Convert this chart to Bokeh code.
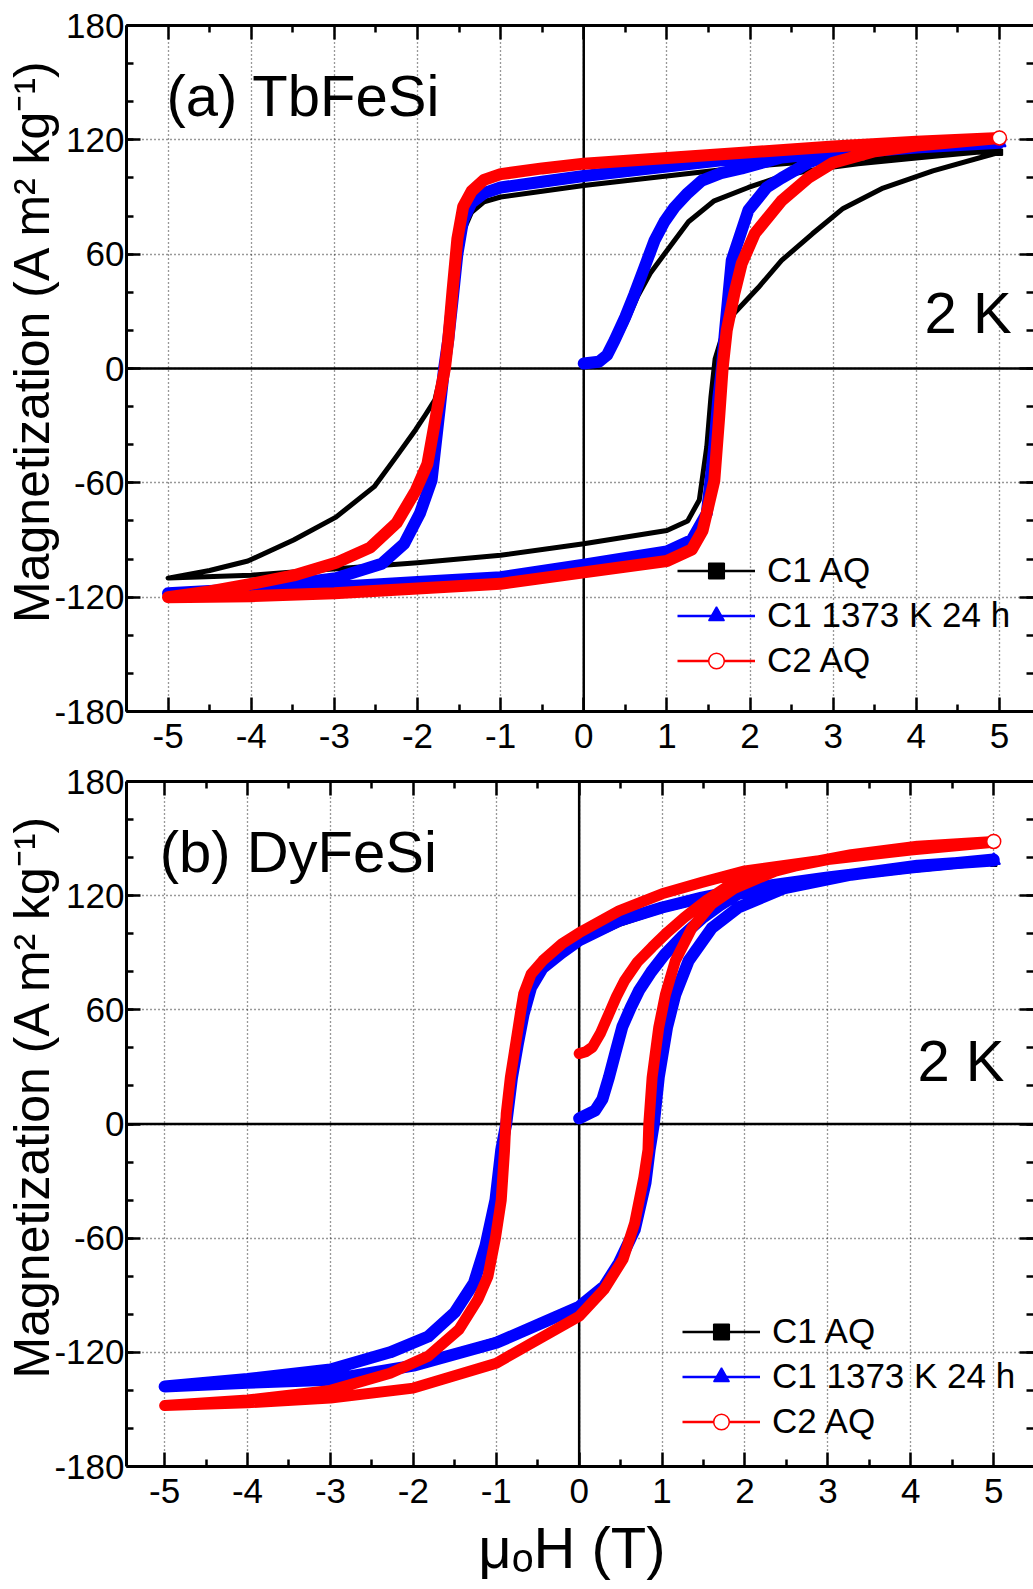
from bokeh.plotting import figure
from bokeh.models import Range1d, LinearAxis, FixedTicker, Span, Legend, LegendItem, Label
from bokeh.layouts import column
from bokeh.embed import file_html
from bokeh.resources import INLINE

FONT = "Liberation Sans"

# ---------------- axis ticks / labels ----------------
x_ticks = [-5, -4, -3, -2, -1, 0, 1, 2, 3, 4, 5]
x_tick_labels = ["-5", "-4", "-3", "-2", "-1", "0", "1", "2", "3", "4", "5"]
x_minor = [-5.5, -4.5, -3.5, -2.5, -1.5, -0.5, 0.5, 1.5, 2.5, 3.5, 4.5, 5.5]
y_ticks = [-180, -120, -60, 0, 60, 120, 180]
y_tick_labels = ["-180", "-120", "-60", "0", "60", "120", "180"]
y_minor = [-180, -160, -140, -120, -100, -80, -60, -40, -20, 0, 20, 40, 60, 80, 100, 120, 140, 160, 180]
series_names = ["C1 AQ", "C1 1373 K 24 h", "C2 AQ"]
series_colors = ["black", "blue", "red"]

# ---------------- (a) TbFeSi ----------------
# C1 AQ : virgin 0->5, then 5->-5, then -5->5
tb_c1aq_H = [0, 0.2, 0.35, 0.5, 0.65, 0.8, 1.02, 1.26, 1.57, 1.98, 2.38, 2.8, 3.3, 4.0, 4.5, 5.0,
             4.0, 3.0, 2.0, 1.0, 0.0, -0.5, -1.0, -1.2, -1.35, -1.45, -1.52, -1.58, -1.63, -1.7, -1.79, -1.9,
             -2.02, -2.25, -2.52, -2.98, -3.49, -4.04, -4.5, -5.0,
             -4.0, -3.26, -2.0, -1.0, 0.0, 1.0, 1.25, 1.39, 1.48, 1.53, 1.58, 1.65, 1.74, 1.81, 2.1, 2.38,
             2.75, 3.12, 3.6, 4.2, 5.0]
tb_c1aq_M = [2, 3, 10, 23, 38, 50, 63, 77, 88, 95, 101, 104.5, 107.5, 110.5, 112.5, 114.5,
             112, 109.5, 106, 101, 96, 93, 90, 87.5, 82, 72, 55, 35, 15, 0, -16.5, -24,
             -32, -46, -62, -78, -90, -101, -106, -110,
             -108.5, -106, -102, -98, -92, -85, -80, -69, -41, -15, 5, 15, 21.5, 29, 42.5, 56.7,
             70.7, 84, 94.7, 103.7, 113.5]

# C1 1373 K 24 h
tb_c1ht_H = [0, 0.18, 0.28, 0.37, 0.5, 0.61, 0.73, 0.85, 0.97, 1.09, 1.25, 1.42, 1.65, 1.9, 2.38, 3.0, 4.0, 5.0,
             4.0, 3.0, 2.0, 1.0, 0.0, -0.5, -1.0, -1.2, -1.35, -1.45, -1.52, -1.58, -1.63, -1.68, -1.73, -1.83,
             -1.97, -2.16, -2.43, -2.98, -4.0, -5.0,
             -4.0, -3.0, -2.0, -1.0, 0.0, 1.0, 1.3, 1.48, 1.57, 1.62, 1.66, 1.7, 1.78, 1.98, 2.2, 2.38, 2.7,
             3.0, 4.0, 5.0]
tb_c1ht_M = [2.6, 3.5, 7, 14.7, 27, 39, 53, 67, 77, 84.5, 92, 98.6, 102.5, 105, 110.7, 113.5, 116, 118.5,
             116.5, 114, 111, 106, 101, 98, 95, 92, 87, 78, 60, 35, 15, 0, -20, -58.6,
             -76, -92, -102.5, -110, -115.6, -118,
             -116, -114.7, -112, -109.5, -103, -96, -90, -76, -41, -15, 0, 20, 56.7, 83, 95, 100, 108,
             112.5, 116, 118.5]

# C2 AQ (no virgin curve)
tb_c2aq_H = [5.0, 4.0, 3.0, 2.0, 1.0, 0.0, -0.5, -1.0, -1.2, -1.35, -1.45, -1.52, -1.58, -1.63, -1.67, -1.74,
             -1.88, -2.02, -2.25, -2.57, -2.98, -3.49, -4.0, -4.5, -5.0,
             -4.0, -3.0, -2.0, -1.0, 0.0, 1.0, 1.3, 1.43, 1.57, 1.63, 1.67, 1.72, 1.81, 1.9, 2.06, 2.38, 2.7,
             3.0, 3.5, 4.0, 5.0]
tb_c2aq_M = [121, 119, 116.5, 113.5, 110.5, 107.5, 105, 102, 99, 93, 85, 68, 40, 15, 0, -16,
             -50, -64, -81, -94, -102, -108.6, -113, -117, -120,
             -119.5, -118, -115.5, -113, -107, -101, -95, -85, -59, -25, 0, 20, 39, 55, 71, 88, 100,
             108, 114, 117, 121]

# ---------------- (b) DyFeSi ----------------
dy_c1aq_H = [0, 0.19, 0.28, 0.36, 0.44, 0.52, 0.62, 0.72, 0.87, 1.03, 1.25, 1.48, 1.7, 1.92, 2.5, 3.0, 4.0, 5.0,
             4.0, 3.0, 2.0, 1.48, 1.0, 0.48, 0.0, -0.21, -0.44, -0.58, -0.67, -0.74, -0.81, -0.88, -0.94, -1.01,
             -1.13, -1.27, -1.5, -1.82, -2.28, -3.0, -4.0, -5.0,
             -4.0, -3.0, -2.0, -1.0, 0.0, 0.3, 0.48, 0.67, 0.8, 0.85, 0.9, 0.96, 1.06, 1.16, 1.32, 1.6, 1.92,
             2.48, 3.28, 4.08, 5.0]
dy_c1aq_M = [2, 5, 10, 21, 35, 48, 59, 68, 78, 87, 97, 106, 113, 119, 125, 128, 133, 137,
             133, 128, 122, 117, 112, 104.5, 95, 89, 81, 71, 57, 41, 23, 0, -14, -40,
             -63, -82, -97.5, -110.5, -119, -128.5, -134, -138,
             -135.5, -133.5, -126, -113, -95, -84, -72, -54, -30, -13, 0, 24, 50, 67, 85, 102, 112.5,
             122.5, 129.5, 134, 137]

dy_c1ht_H = [0, 0.19, 0.28, 0.36, 0.44, 0.52, 0.62, 0.72, 0.87, 1.03, 1.25, 1.48, 1.7, 1.92, 2.5, 3.0, 4.0, 5.0,
             4.0, 3.0, 2.0, 1.48, 1.0, 0.48, 0.0, -0.21, -0.44, -0.58, -0.67, -0.74, -0.81, -0.88, -0.94, -1.01,
             -1.13, -1.27, -1.5, -1.82, -2.28, -3.0, -4.0, -5.0,
             -4.0, -3.0, -2.0, -1.0, 0.0, 0.3, 0.48, 0.67, 0.8, 0.85, 0.9, 0.96, 1.06, 1.16, 1.32, 1.6, 1.92,
             2.48, 3.28, 4.08, 5.0]
dy_c1ht_M = [3, 7, 13, 24.7, 38, 51, 61, 70, 80, 89, 99, 108, 115, 121, 126.5, 129.6, 134.8, 139,
             134.8, 129.6, 123.5, 119, 113.8, 106.8, 96.5, 90, 82, 71.8, 57.8, 42, 24.5, 0, -13.6, -40,
             -64, -83.6, -99, -111.7, -120, -129, -134, -138,
             -136, -134.4, -127, -115, -96, -85.4, -73, -55.6, -31, -13.6, 0, 24.5, 50.8, 68, 85.8, 103, 113.8,
             124, 131, 135.7, 138.5]

dy_c2aq_H = [0, 0.08, 0.16, 0.26, 0.36, 0.45, 0.55, 0.7, 0.88, 1.07, 1.27, 1.55, 1.84, 2.2, 2.6, 3.0, 4.0, 5.0,
             4.0, 3.0, 2.0, 1.48, 1.0, 0.48, 0.0, -0.21, -0.44, -0.58, -0.67, -0.71, -0.76, -0.83, -0.88, -0.9,
             -0.94, -1.01, -1.1, -1.22, -1.45, -1.82, -2.28, -3.0, -4.0, -5.0,
             -4.0, -3.0, -2.0, -1.0, 0.0, 0.3, 0.53, 0.67, 0.78, 0.83, 0.84, 0.88, 0.96, 1.04, 1.16, 1.36, 1.6,
             1.88, 2.48, 3.28, 4.08, 5.0]
dy_c2aq_M = [37, 38, 40.4, 48, 58, 67, 75.5, 85, 93, 101, 108.6, 118, 126.4, 131, 135.5, 139, 144, 148,
             144, 139, 133, 127, 121, 112, 100.5, 94.6, 85.8, 78.8, 68.3, 57.8, 43.8, 24.5, 5.3, -13.6,
             -40, -60, -80, -92, -108, -122, -131, -140, -145, -148,
             -146.5, -144, -138.8, -125.7, -101, -87, -71, -52, -28, -13.6, 0, 24.5, 50.8, 68, 85.8, 103, 115.6,
             124, 135, 141.5, 146, 148.5]


def style_axis(ax, ticks, labels, minor, show):
    ax.ticker = FixedTicker(ticks=ticks, minor_ticks=minor)
    ax.axis_line_width = 3
    ax.axis_line_color = "black"
    ax.major_tick_in = 14
    ax.major_tick_out = 0
    ax.minor_tick_in = 7
    ax.minor_tick_out = 0
    ax.major_tick_line_width = 2.5
    ax.minor_tick_line_width = 2.5
    ax.major_tick_line_color = "black"
    ax.minor_tick_line_color = "black"
    ax.major_label_text_font = FONT
    ax.major_label_text_color = "black"
    if show:
        ax.major_label_overrides = dict(zip(ticks, labels))
        ax.major_label_text_font_size = "35px"
    else:
        ax.major_label_overrides = {t: "" for t in ticks}
        ax.major_label_text_font_size = "0px"
        ax.major_label_standoff = 0


def panel(series, height, x_start, x_end, b_left, b_top, b_bottom, legend_xy, tag, tag_xy, temp_xy, widths, xlabel):
    p = figure(width=1033, height=height, x_range=Range1d(x_start, x_end), y_range=Range1d(-180, 180),
               output_backend="svg", toolbar_location=None,
               min_border_left=b_left, min_border_right=0, min_border_top=b_top, min_border_bottom=b_bottom)
    p.outline_line_color = None
    p.background_fill_color = "white"
    p.border_fill_color = "white"

    style_axis(p.xaxis[0], x_ticks, x_tick_labels, x_minor, True)
    p.xaxis[0].major_label_standoff = 12
    style_axis(p.yaxis[0], y_ticks, y_tick_labels, y_minor, True)
    p.yaxis[0].major_label_standoff = 2
    p.yaxis[0].axis_label = "\u00a0\u00a0\u00a0\u00a0Magnetization (A m\u00b2 kg\u207b\u00b9)"
    p.yaxis[0].axis_label_text_font = FONT
    p.yaxis[0].axis_label_text_font_size = "50px"
    p.yaxis[0].axis_label_text_font_style = "normal"
    p.yaxis[0].axis_label_text_color = "black"
    p.yaxis[0].axis_label_standoff = -9
    if xlabel:
        p.xaxis[0].axis_label = xlabel
        p.xaxis[0].axis_label_text_font = FONT
        p.xaxis[0].axis_label_text_font_size = "58px"
        p.xaxis[0].axis_label_text_font_style = "normal"
        p.xaxis[0].axis_label_text_color = "black"
        p.xaxis[0].axis_label_standoff = 9

    top = LinearAxis()
    style_axis(top, x_ticks, x_tick_labels, x_minor, False)
    p.add_layout(top, "above")
    right = LinearAxis()
    style_axis(right, y_ticks, y_tick_labels, y_minor, False)
    right.axis_line_color = None
    p.add_layout(right, "right")

    p.xgrid.ticker = FixedTicker(ticks=x_ticks)
    p.ygrid.ticker = FixedTicker(ticks=y_ticks)
    for g in (p.xgrid[0], p.ygrid[0]):
        g.grid_line_color = "#333333"
        g.grid_line_dash = "1 3"
        g.grid_line_width = 1.3

    p.add_layout(Span(location=0, dimension="height", line_color="black", line_width=2.5, level="underlay"))
    p.add_layout(Span(location=0, dimension="width", line_color="black", line_width=2.5, level="underlay"))

    markers = ["square", "triangle", "circle"]
    fills = ["black", "blue", "white"]
    sizes = [6, 13, 14]
    items = []
    for (H, M), name, color, mk, fc, sz, w in zip(series, series_names, series_colors, markers, fills, sizes, widths):
        thin = p.line(H, M, line_color=color, line_width=2.5)
        p.line(H, M, line_color=color, line_width=w, line_join="round", line_cap="round")
        end = p.scatter(H[-1:], M[-1:], marker=mk, size=sz, fill_color=fc, line_color=color, line_width=1.5)
        items.append(LegendItem(label=name, renderers=[thin, end]))

    leg = Legend(items=items, location=legend_xy, padding=0, margin=0, spacing=5,
                 glyph_width=78, glyph_height=39, label_height=39, label_standoff=12,
                 label_text_font=FONT, label_text_font_size="35px", label_text_color="black",
                 background_fill_alpha=0, border_line_alpha=0)
    p.add_layout(leg)

    p.add_layout(Label(x=tag_xy[0], y=tag_xy[1], text=tag, text_font=FONT, text_font_size="58px",
                       text_color="black", text_baseline="alphabetic", text_align="left"))
    p.add_layout(Label(x=temp_xy[0], y=temp_xy[1], text="2 K", text_font=FONT, text_font_size="58px",
                       text_color="black", text_baseline="alphabetic", text_align="left"))
    return p


pa = panel([(tb_c1aq_H, tb_c1aq_M), (tb_c1ht_H, tb_c1ht_M), (tb_c2aq_H, tb_c2aq_M)],
           height=760, x_start=-5.5, x_end=5.41, b_left=126, b_top=25, b_bottom=49,
           legend_xy=(551, 31), tag="(a) TbFeSi", tag_xy=(-5.02, 143.5), temp_xy=(4.1, 29.6),
           widths=[5, 12, 12], xlabel=None)
pb = panel([(dy_c1aq_H, dy_c1aq_M), (dy_c1ht_H, dy_c1ht_M), (dy_c2aq_H, dy_c2aq_M)],
           height=822, x_start=-5.46, x_end=5.48, b_left=121, b_top=21, b_bottom=115,
           legend_xy=(556, 25), tag="(b) DyFeSi", tag_xy=(-5.06, 143), temp_xy=(4.08, 33.6),
           widths=[4, 12, 11], xlabel="\u03bc\u2092H (T)\u00a0")

layout = column(pa, pb)
open("out.html", "w").write(file_html(layout, INLINE))
